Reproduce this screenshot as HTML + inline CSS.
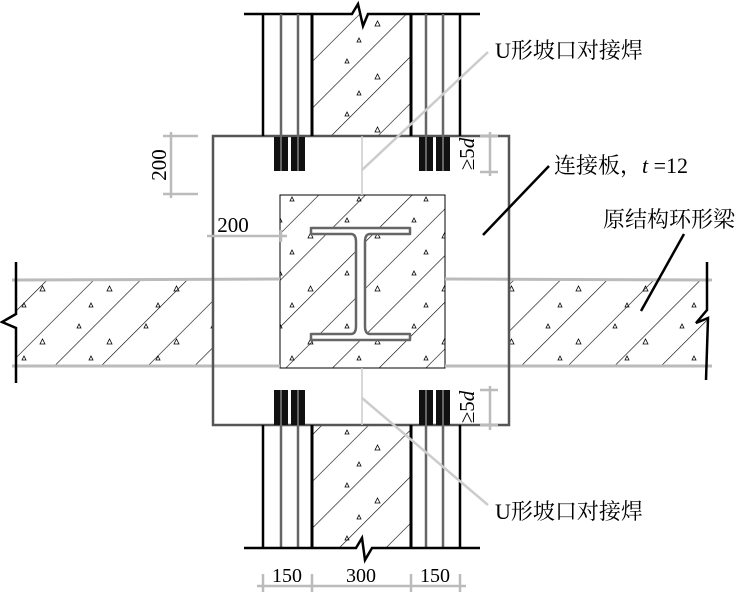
<!DOCTYPE html>
<html><head><meta charset="utf-8"><style>
html,body{margin:0;padding:0;background:#fff;}
svg{display:block;}
text{font-family:"Liberation Serif","Noto Serif CJK SC",serif;fill:#000;}
</style></head><body>
<svg width="752" height="594" viewBox="0 0 752 594" xmlns="http://www.w3.org/2000/svg">
<defs>
<pattern id="h" width="33" height="33" patternUnits="userSpaceOnUse" patternTransform="rotate(45)">
<line x1="0" y1="0" x2="0" y2="33" stroke="#000" stroke-width="1.2"/>
</pattern>
<pattern id="t" width="67" height="53" patternUnits="userSpaceOnUse">
<path d="M10 10 l4 0 l-2 -4z M40 26 l5 0 l-2.5 -5z M22 42 l4 0 l-2 -4z" fill="none" stroke="#000" stroke-width="0.8"/>
</pattern>
</defs>
<g>
<rect x="312" y="14" width="99" height="122" fill="url(#h)"/>
<rect x="312" y="14" width="99" height="122" fill="url(#t)"/>
<rect x="312" y="425" width="99" height="123" fill="url(#h)"/>
<rect x="312" y="425" width="99" height="123" fill="url(#t)"/>
<rect x="16" y="280" width="197" height="87" fill="url(#h)"/>
<rect x="16" y="280" width="197" height="87" fill="url(#t)"/>
<rect x="510" y="280" width="197" height="87" fill="url(#h)"/>
<rect x="510" y="280" width="197" height="87" fill="url(#t)"/>
<rect x="280" y="195" width="165" height="173" fill="url(#h)"/>
<rect x="280" y="195" width="165" height="173" fill="url(#t)"/>
</g>
<rect x="280" y="195" width="165" height="173" fill="none" stroke="#000" stroke-width="1"/>
<!-- I-beam -->
<path d="M311 228 H410 V234 H370 Q365 234 365 242 V326 Q365 334 370 334 H410 V340 H311 V334 H351 Q356 334 356 326 V242 Q356 234 351 234 H311 Z" fill="#fff" stroke="#666" stroke-width="2.5" stroke-linejoin="round"/>
<!-- beam lines -->
<line x1="12" y1="280" x2="280" y2="279" stroke="#bbb" stroke-width="3"/>
<line x1="12" y1="366" x2="280" y2="366" stroke="#bbb" stroke-width="3"/>
<line x1="445" y1="279" x2="712" y2="280" stroke="#bbb" stroke-width="3"/>
<line x1="445" y1="366" x2="712" y2="366" stroke="#bbb" stroke-width="3"/>
<path d="M16 262 V314 L2 322 L16 328 V383" fill="none" stroke="#000" stroke-width="2.5"/>
<path d="M707 262 V310 L696 323 L708 318 L706 380" fill="none" stroke="#000" stroke-width="2.5"/>
<!-- plate -->
<rect x="213" y="136" width="296" height="289" fill="none" stroke="#555" stroke-width="2.5"/>
<line x1="362" y1="136" x2="362" y2="195" stroke="#ccc" stroke-width="1.5"/>
<line x1="362" y1="368" x2="362" y2="425" stroke="#ccc" stroke-width="1.5"/>
<!-- columns -->
<path d="M244 14 H352 L358 4 L363 26 L368 14 H480" fill="none" stroke="#000" stroke-width="2.5"/>
<g stroke-width="2.5">
<line x1="263" y1="14" x2="263" y2="136" stroke="#000"/>
<line x1="281" y1="14" x2="281" y2="171" stroke="#666"/>
<line x1="298" y1="14" x2="298" y2="171" stroke="#666"/>
<line x1="312" y1="14" x2="312" y2="136" stroke="#000" stroke-width="3"/>
<line x1="411" y1="14" x2="411" y2="136" stroke="#000" stroke-width="3"/>
<line x1="426" y1="14" x2="426" y2="171" stroke="#666"/>
<line x1="443" y1="14" x2="443" y2="171" stroke="#666"/>
<line x1="460" y1="14" x2="460" y2="136" stroke="#000"/>
<line x1="263" y1="425" x2="263" y2="548" stroke="#000"/>
<line x1="281" y1="390" x2="281" y2="548" stroke="#666"/>
<line x1="298" y1="390" x2="298" y2="548" stroke="#666"/>
<line x1="312" y1="425" x2="312" y2="548" stroke="#000" stroke-width="3"/>
<line x1="411" y1="425" x2="411" y2="548" stroke="#000" stroke-width="3"/>
<line x1="426" y1="390" x2="426" y2="548" stroke="#666"/>
<line x1="443" y1="390" x2="443" y2="548" stroke="#666"/>
<line x1="460" y1="425" x2="460" y2="548" stroke="#000"/>
</g>
<path d="M244 548 H356 L362 538 L365 560 L372 548 H480" fill="none" stroke="#000" stroke-width="2.5"/>
<g fill="#111">
<rect x="274" y="137" width="14" height="34"/><rect x="291" y="137" width="14" height="34"/>
<rect x="419" y="137" width="14" height="34"/><rect x="436" y="137" width="14" height="34"/>
<rect x="274" y="390" width="14" height="35"/><rect x="291" y="390" width="14" height="35"/>
<rect x="419" y="390" width="14" height="35"/><rect x="436" y="390" width="14" height="35"/>
</g>
<g stroke="#666" stroke-width="2">
<line x1="281" y1="137" x2="281" y2="171"/><line x1="298" y1="137" x2="298" y2="171"/>
<line x1="426" y1="137" x2="426" y2="171"/><line x1="443" y1="137" x2="443" y2="171"/>
<line x1="281" y1="390" x2="281" y2="425"/><line x1="298" y1="390" x2="298" y2="425"/>
<line x1="426" y1="390" x2="426" y2="425"/><line x1="443" y1="390" x2="443" y2="425"/>
</g>
<!-- dims -->
<g stroke="#bbb" stroke-width="2.5" fill="none">
<path d="M171 132 V198 M163 136 H198 M163 194 H198"/>
<path d="M207 236 H287 M281 230 V242"/>
<path d="M490 132 V176 M480 136 H498 M480 172 H498"/>
<path d="M490 386 V430 M480 390 H498 M480 425 H498"/>
<path d="M257 586 H466 M263 574 V592 M312 574 V592 M411 574 V592 M460 574 V592"/>
</g>
<text font-size="21" transform="translate(166,165) rotate(-90)" text-anchor="middle">200</text>
<text x="233" y="232" font-size="21" text-anchor="middle">200</text>
<text font-size="21" transform="translate(474,154) rotate(-90)" text-anchor="middle">≥5<tspan font-style="italic">d</tspan></text>
<text font-size="21" transform="translate(474,407) rotate(-90)" text-anchor="middle">≥5<tspan font-style="italic">d</tspan></text>
<text x="287" y="582" font-size="20" text-anchor="middle">150</text>
<text x="361" y="582" font-size="20" text-anchor="middle">300</text>
<text x="435" y="582" font-size="20" text-anchor="middle">150</text>
<line x1="488" y1="52" x2="362" y2="170" stroke="#ccc" stroke-width="2.5"/>
<line x1="488" y1="505" x2="362" y2="398" stroke="#ccc" stroke-width="2.5"/>
<line x1="483" y1="235" x2="549" y2="166" stroke="#000" stroke-width="2.5"/>
<line x1="684" y1="234" x2="641" y2="311" stroke="#000" stroke-width="2.5"/>
<text x="495" y="58" font-size="22">U形坡口对接焊</text>
<text x="495" y="519" font-size="22">U形坡口对接焊</text>
<text x="554" y="173" font-size="22">连接板，<tspan font-style="italic">t</tspan> =12</text>
<text x="603" y="227" font-size="22">原结构环形梁</text>
</svg>
</body></html>
